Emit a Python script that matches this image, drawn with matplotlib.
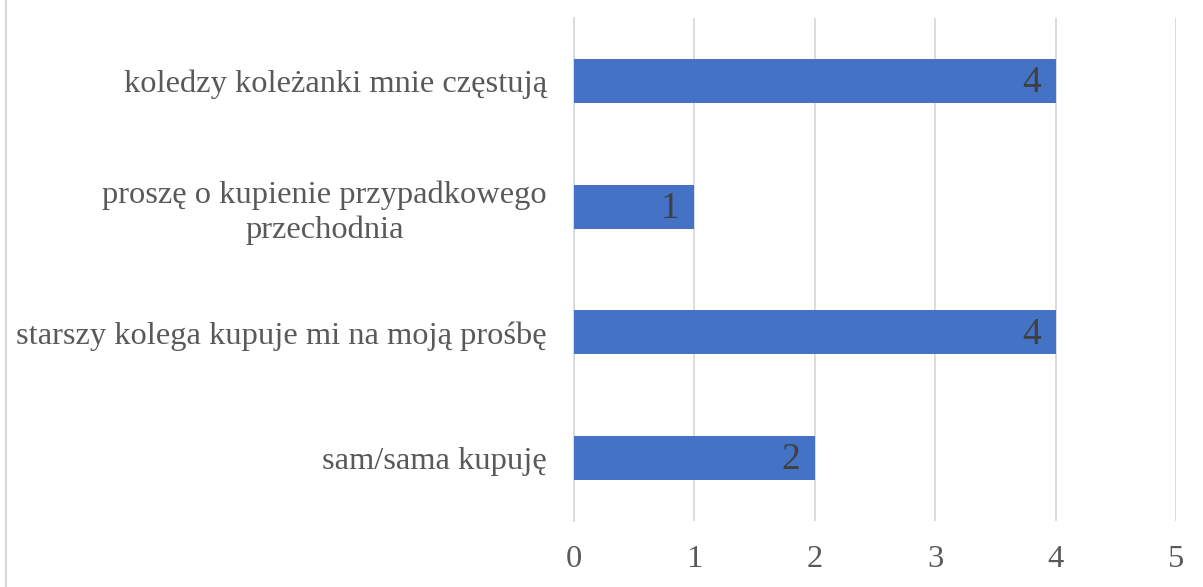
import matplotlib
matplotlib.use("Agg")
import matplotlib.pyplot as plt
from matplotlib.lines import Line2D

categories = ["sam/sama kupuję",
              "starszy kolega kupuje mi na moją prośbę",
              "proszę o kupienie przypadkowego\nprzechodnia",
              "koledzy koleżanki mnie częstują"]
values = [2, 4, 1, 4]
xticks = [0, 1, 2, 3, 4, 5]

plt.rcParams['font.family'] = ['Liberation Serif', 'DejaVu Serif']

fig = plt.figure(figsize=(12.03, 5.87), dpi=100)
ax = fig.add_axes([574/1203, 1-521/587, (1176-574)/1203, (521-18)/587])

bar_color = '#4472C4'
ypos = list(range(len(categories)))
bars = ax.barh(ypos, values, height=0.35, color=bar_color, zorder=3)

ax.set_xlim(0, 5)
ax.set_ylim(-0.5, len(categories) - 0.5)
ax.set_xticks(xticks)
ax.set_xticklabels([str(t) for t in xticks])
ax.set_yticks(ypos)
ax.set_yticklabels(categories, multialignment='center', linespacing=1.25)

ax.grid(axis='x', color='#D9D9D9', linewidth=1.3, zorder=0)
ax.grid(axis='y', visible=False)
for s in ['top', 'right', 'bottom']:
    ax.spines[s].set_visible(False)
ax.spines['left'].set_color('#D9D9D9')
ax.spines['left'].set_linewidth(1.3)
ax.spines['left'].set_zorder(0)

ax.tick_params(axis='both', length=0, labelsize=23.4, labelcolor='#595959')
ax.tick_params(axis='y', pad=19.5)
ax.tick_params(axis='x', pad=17)

for b, v in zip(bars, values):
    ax.annotate(str(v), xy=(b.get_width(), b.get_y() + b.get_height()/2),
                xytext=(-10.8, -1.5), textcoords='offset points',
                ha='right', va='center', fontsize=27, color='#404040', zorder=4)

fig.add_artist(Line2D([6/1203, 6/1203], [0, 1], transform=fig.transFigure,
                      color='#D9D9D9', linewidth=1.5))

fig.savefig('out.png', dpi=100, facecolor='white')
